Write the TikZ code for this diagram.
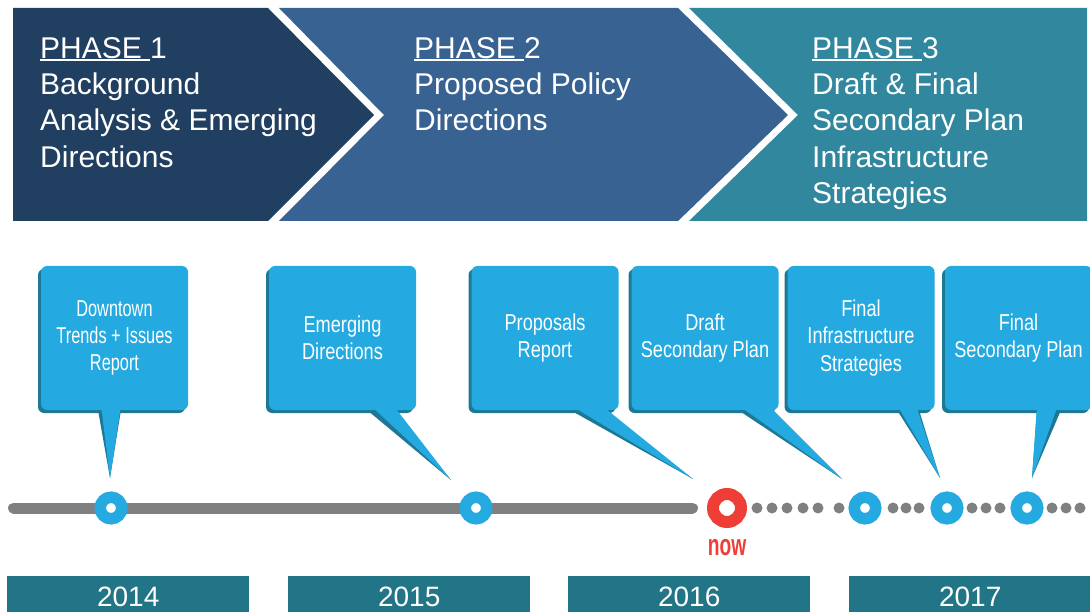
\documentclass[tikz,border=0pt]{standalone}
\usepackage{fontspec}
\usepackage{calc}
\setmainfont{Liberation Sans}
\newfontfamily\calfont[FakeStretch=0.79]{Liberation Sans}
\newfontfamily\calfontn[FakeStretch=0.71]{Liberation Sans}
\newfontfamily\nowfont[FakeStretch=0.64]{Liberation Sans}
\usetikzlibrary{shadows}
\definecolor{phA}{HTML}{213F61}
\definecolor{phB}{HTML}{376292}
\definecolor{phC}{HTML}{31879D}
\definecolor{cal}{HTML}{24AAE1}
\definecolor{calsh}{HTML}{1D7896}
\definecolor{yr}{HTML}{227586}
\definecolor{tl}{HTML}{7F807F}
\definecolor{nowred}{HTML}{EE3E36}
\newcommand{\phaseul}[1]{\rlap{\rule[-2.6pt]{\widthof{#1}}{1.6pt}}#1}
\begin{document}
\begin{tikzpicture}[x=1pt,y=-1pt,
  phasetext/.style={anchor=north west, inner sep=0, align=left, text=white, font=\fontsize{30}{36.3}\selectfont},
  callout/.style={rectangle, rounded corners=6pt, fill=cal, minimum width=147pt, minimum height=144pt, inner sep=0, align=center, text=white, font=\calfont\fontsize{23}{27.4}\selectfont, copy shadow={shadow xshift=-3pt, shadow yshift=-3pt, fill=calsh, draw=none}},
  ptr/.style={fill=cal},
  ptrsh/.style={fill=calsh},
  marker/.style={circle, inner sep=0, minimum size=21.5pt, draw=cal, line width=11.5pt, fill=white},
  nowmark/.style={circle, inner sep=0, minimum size=28pt, draw=nowred, line width=12pt, fill=white},
  tldot/.style={fill=tl},
  yearbar/.style={rectangle, inner sep=0, anchor=north west, minimum width=242pt, minimum height=42pt, fill=yr, text=white, font=\fontsize{28}{32}\selectfont}
]
\useasboundingbox (0,0) rectangle (1090,612);
\fill[white] (0,0) rectangle (1090,612);

% phase banner
\fill[phA] (13,8) -- (268,8) -- (374,115) -- (268,221) -- (13,221) -- cycle;
\fill[phB] (279,8) -- (678,8) -- (788,115) -- (678,221) -- (279,221) -- (384,115) -- cycle;
\fill[phC] (689,8) -- (1087,8) -- (1087,221) -- (689,221) -- (798,115) -- cycle;

\node[phasetext] (p1) at (40,37) {\phaseul{PHASE\ }1\\Background\\Analysis \& Emerging\\Directions};
\node[phasetext] (p2) at (414,37) {\phaseul{PHASE\ }2\\Proposed Policy\\Directions};
\node[phasetext] (p3) at (812,37) {\phaseul{PHASE\ }3\\Draft \& Final\\Secondary Plan\\Infrastructure\\Strategies};

% callout boxes
\node[callout, font=\calfontn\fontsize{23}{27.4}\selectfont] (c1) at (114.5,338) {Downtown\\Trends + Issues\\Report};
\node[callout] (c2) at (342.5,338) {Emerging\\Directions};
\node[callout] (c3) at (545,338) {Proposals\\Report};
\node[callout] (c4) at (705,338) {Draft\\Secondary Plan};
\node[callout] (c5) at (861,338) {Final\\Infrastructure\\Strategies};
\node[callout] (c6) at (1018.5,338) {Final\\Secondary Plan};

% pointers
\fill[ptrsh] (98,410) -- (121,410) -- (110,478) -- cycle;
\fill[ptr] (101,405) -- (121,405) -- (110,478) -- cycle;
\fill[ptrsh] (367,410) -- (393,410) -- (451,480) -- cycle;
\fill[ptr] (370,405) -- (393,405) -- (451,480) -- cycle;
\fill[ptrsh] (570,410) -- (604,410) -- (693,479) -- cycle;
\fill[ptr] (570,405) -- (601,405) -- (693,479) -- cycle;
\fill[ptrsh] (738,410) -- (771,410) -- (842,479) -- cycle;
\fill[ptr] (738,405) -- (768,405) -- (842,479) -- cycle;
\fill[ptrsh] (897,410) -- (919,410) -- (940,478) -- cycle;
\fill[ptr] (897,405) -- (916,405) -- (940,478) -- cycle;
\fill[ptrsh] (1037,410) -- (1061,410) -- (1032,478) -- cycle;
\fill[ptr] (1037,405) -- (1058,405) -- (1032,478) -- cycle;

% timeline
\coordinate (tlL) at (13.5,508);
\coordinate (tlR) at (692.5,508);
\draw[line width=11pt, line cap=round, tl] (tlL) -- (tlR);
\foreach \x in {757,772,787,803,818,839,893,906,919,972,986,1000,1052,1066,1080}
  \fill[tldot] (\x,508) circle[radius=5.5pt];

\node[marker] (m1) at (111,508) {};
\node[marker] (m2) at (476,508) {};
\node[nowmark] (mnow) at (727,508) {};
\node[marker] (m4) at (865,508) {};
\node[marker] (m5) at (947,508) {};
\node[marker] (m6) at (1027,508) {};

\node[anchor=base, inner sep=0, text=nowred, font=\nowfont\bfseries\fontsize{30}{32}\selectfont] (nowlbl) at (727,555) {now};

% years
\node[yearbar] (y1) at (7,576) {2014};
\node[yearbar] (y2) at (288,576) {2015};
\node[yearbar] (y3) at (568,576) {2016};
\node[yearbar] (y4) at (849,576) {2017};
\end{tikzpicture}
\end{document}
